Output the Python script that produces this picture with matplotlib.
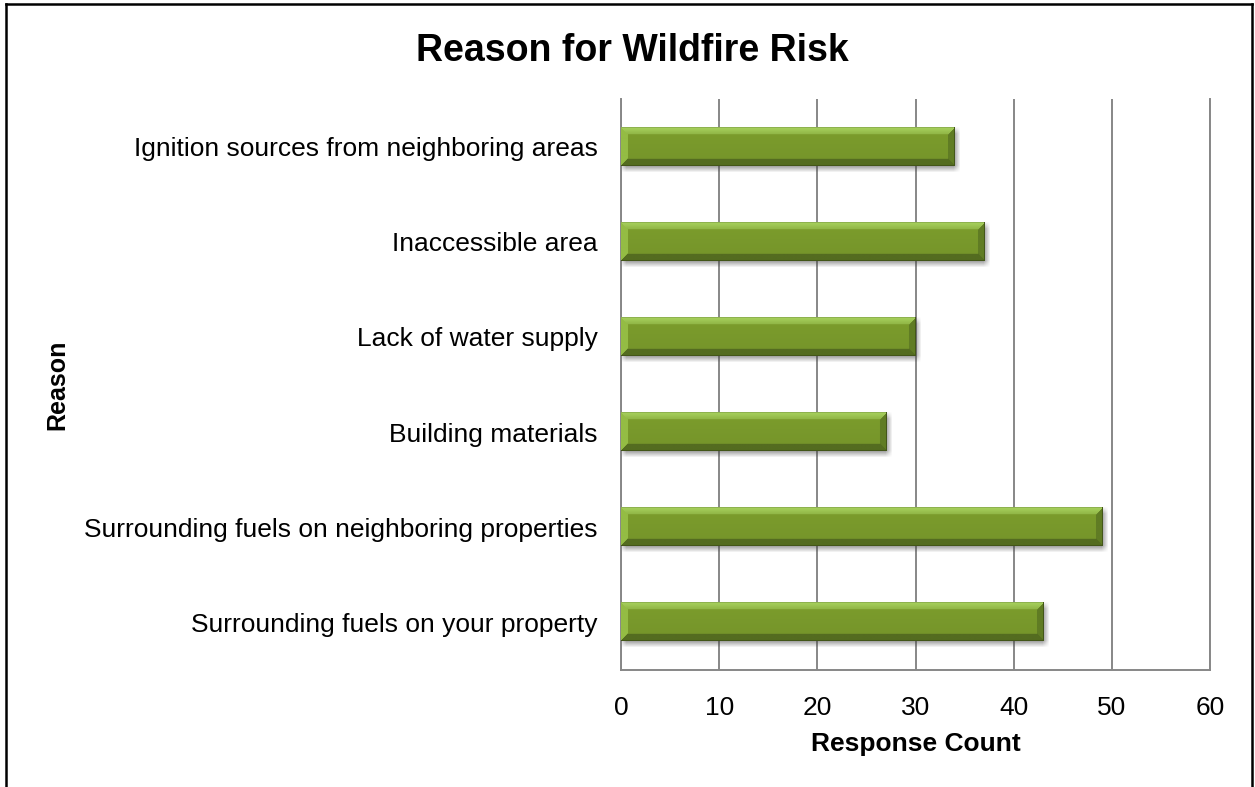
import numpy as np
import matplotlib
matplotlib.use("Agg")
import matplotlib.pyplot as plt
from matplotlib.lines import Line2D

plt.rcParams['font.family'] = ['Liberation Sans', 'DejaVu Sans']

# Survey responses, listed top to bottom
reasons = [
    "Ignition sources from neighboring areas",
    "Inaccessible area",
    "Lack of water supply",
    "Building materials",
    "Surrounding fuels on neighboring properties",
    "Surrounding fuels on your property",
]
counts = [34, 37, 30, 27, 49, 43]
x_ticks = [0, 10, 20, 30, 40, 50, 60]

title = "Reason for Wildfire Risk"
x_title = "Response Count"
y_title = "Reason"

W, H, DPI = 1255, 787, 100
fig = plt.figure(figsize=(W / DPI, H / DPI), dpi=DPI)
fig.patch.set_facecolor("white")

ax = fig.add_axes([621 / W, 1 - 670 / H, (1210 - 621) / W, (670 - 99) / H])
n = len(reasons)
ypos = np.arange(n)
bar_h = 0.40
ax.set_xlim(0, 60)
ax.set_ylim(n - 0.5, -0.5)

grid_c = "#878787"
ax.set_xticks(x_ticks)
ax.set_xticklabels([str(t) for t in x_ticks])
ax.set_yticks(ypos)
ax.set_yticklabels(reasons)
ax.tick_params(axis="both", length=0, labelsize=19, colors="black")
ax.tick_params(axis="y", pad=17)
ax.tick_params(axis="x", pad=18.5)
ax.grid(axis="x", color=grid_c, linewidth=1.4, zorder=0)
ax.set_axisbelow(True)
ax.spines["top"].set_visible(False)
for side in ("left", "bottom", "right"):
    ax.spines[side].set_color(grid_c)
    ax.spines[side].set_linewidth(1.4)

ax.set_xlabel(x_title, fontsize=19, fontweight="bold", labelpad=9)

# pixel scale of the data axes
fig.canvas.draw()
bb = ax.get_window_extent()
px_x = bb.width / 60.0
px_y = bb.height / n


def box_blur(a, r):
    for axis in (0, 1):
        k = np.ones(2 * r + 1) / (2 * r + 1)
        a = np.apply_along_axis(lambda v: np.convolve(v, k, mode="same"), axis, a)
    return a


main = np.array([117, 148, 42]) / 255
light = np.array([168, 210, 94]) / 255
lighter_end = np.array([148, 188, 68]) / 255
dark = np.array([84, 108, 32]) / 255
dark_end = np.array([96, 124, 36]) / 255

for y, v in zip(ypos, counts):
    wpx = max(int(round(v * px_x)), 2)
    hpx = max(int(round(bar_h * px_y)), 2)

    # soft drop shadow
    pad = 10
    sh = np.zeros((hpx + 2 * pad, wpx + 2 * pad))
    sh[pad + 3:pad + hpx + 3, pad + 2:pad + wpx + 2] = 1.0
    sh = box_blur(sh, 3)
    rgba = np.zeros(sh.shape + (4,))
    rgba[..., :3] = 0.25
    rgba[..., 3] = sh * 0.55
    dx, dy = pad / px_x, pad / px_y
    ax.imshow(rgba, extent=(-dx, v + dx, y + bar_h / 2 + dy, y - bar_h / 2 - dy),
              aspect="auto", interpolation="bilinear", zorder=2, origin="upper")

    # bevelled bar face
    rows = np.arange(hpx)[:, None] * np.ones((1, wpx))
    cols = np.ones((hpx, 1)) * np.arange(wpx)[None, :]
    d_top = rows
    d_bot = hpx - 1 - rows
    d_left = cols
    d_right = wpx - 1 - cols
    dmin = np.minimum(np.minimum(d_top, d_bot), np.minimum(d_left, d_right))
    b = 7
    t = (rows / (hpx - 1))[..., None]
    img = np.clip(main * (1 + 0.06 * (1 - t)), 0, 1)
    # top bevel fades from light to the face colour
    fade = (d_top / b)[..., None]
    m = (dmin < b) & (d_top == dmin)
    top_col = light * (1 - fade * 0.5) + main * fade * 0.5
    img[m] = top_col[m]
    m = (dmin < b) & (d_bot == dmin) & (d_top != dmin)
    img[m] = dark
    m = (dmin < b) & (d_left == dmin) & (d_top != dmin) & (d_bot != dmin)
    img[m] = lighter_end
    m = (dmin < b) & (d_right == dmin) & (d_top != dmin) & (d_bot != dmin)
    img[m] = dark_end
    # thin outline
    img[0, :] = img[0, :] * 0.85
    img[-1, :] = dark * 0.8
    img[:, -1] = dark * 0.8
    ax.imshow(img, extent=(0, v, y + bar_h / 2, y - bar_h / 2),
              aspect="auto", interpolation="bilinear", zorder=3, origin="upper")

ax.set_xlim(0, 60)
ax.set_ylim(n - 0.5, -0.5)

fig.text(632 / W, 1 - 51 / H, title, ha="center", va="center",
         fontsize=27, fontweight="bold")
fig.text(57 / W, 1 - 385 / H, y_title, ha="center", va="center",
         rotation=90, fontsize=18, fontweight="bold")

# chart frame (open at the bottom edge)
frame_kw = dict(color="black", linewidth=1.8, transform=fig.transFigure)
fig.add_artist(Line2D([6 / W, 6 / W], [0, 1 - 4 / H], **frame_kw))
fig.add_artist(Line2D([6 / W, 1252 / W], [1 - 4 / H, 1 - 4 / H], **frame_kw))
fig.add_artist(Line2D([1252 / W, 1252 / W], [1 - 4 / H, 0], **frame_kw))

fig.savefig("out.png", dpi=DPI, facecolor="white")
